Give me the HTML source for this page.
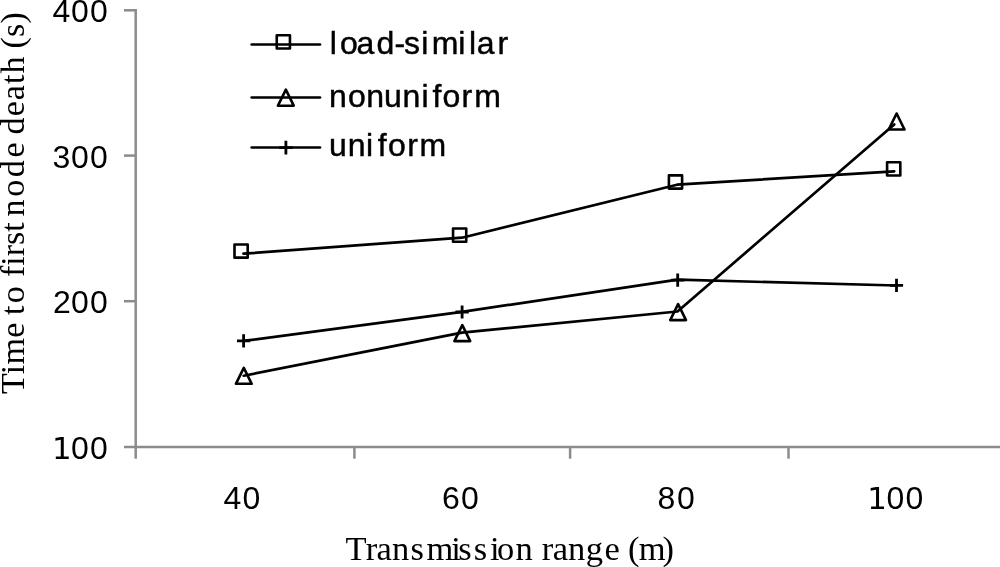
<!DOCTYPE html>
<html lang="en">
<head>
<meta charset="utf-8">
<title>Time to first node death vs transmission range</title>
<style>
html,body{margin:0;padding:0;background:#fff;}
body{width:1000px;height:567px;overflow:hidden;}
svg{display:block;filter:grayscale(1);}
.sans{font-family:"Liberation Sans",sans-serif;fill:#000;}
.serif{font-family:"Liberation Serif",serif;fill:#000;}
.ax{stroke:#8c8c8c;stroke-width:2.5;fill:none;}
.ln{stroke:#000;stroke-width:2.7;fill:none;stroke-linecap:round;stroke-linejoin:round;}
.mk{stroke:#000;stroke-width:2.6;fill:none;stroke-linejoin:round;}
.pl{stroke:#000;stroke-width:2.8;fill:none;}
.leg{stroke:#000;stroke-width:0.45;}
</style>
</head>
<body>
<svg width="1000" height="567" viewBox="0 0 1000 567">
<rect x="0" y="0" width="1000" height="567" fill="#ffffff"/>

<!-- axes -->
<g class="ax">
<line x1="135.7" y1="9" x2="135.7" y2="458.7"/>
<line x1="124" y1="447" x2="1000" y2="447"/>
<line x1="124" y1="10.3" x2="135.7" y2="10.3"/>
<line x1="124" y1="155.6" x2="135.7" y2="155.6"/>
<line x1="124" y1="301.2" x2="135.7" y2="301.2"/>
<line x1="354.4" y1="447" x2="354.4" y2="458.7"/>
<line x1="570.1" y1="447" x2="570.1" y2="458.7"/>
<line x1="788.5" y1="447" x2="788.5" y2="458.7"/>
</g>

<!-- y tick labels -->
<g class="sans" font-size="32">
<text x="52.6 71.1 89.9" y="22.4">400</text>
<text x="52.5 71.1 89.9" y="167.9">300</text>
<text x="52.9 71.1 89.9" y="313.4">200</text>
<text x="52.1 71.1 89.9" y="459.2"><tspan font-family="DejaVu Sans" font-size="30.8">1</tspan>00</text>
</g>

<!-- x tick labels -->
<g class="sans" font-size="32">
<text x="223.6 242.6" y="509.4">40</text>
<text x="442.0 460.9" y="509.4">60</text>
<text x="657.6 676.9" y="509.4">80</text>
<text x="867.2 886.4 905.4" y="509.4"><tspan font-family="DejaVu Sans" font-size="30.8">1</tspan>00</text>
</g>

<!-- axis titles -->
<text class="serif" font-size="34.5" x="345.4 365.8 376.6 392.1 410.6 426.5 451.2 458.2 473.7 489.9 497.1 515.5 532.8 541.7 552.8 568.0 585.7 604.6 619.9 628.0 638.8 662.5" y="559.5">Transmission range (m)</text>
<text class="serif" font-size="34" transform="translate(23.8 394) rotate(-90)"><tspan x="0" letter-spacing="0.3">Time</tspan><tspan x="70.8"> </tspan><tspan x="78.9" letter-spacing="2.3">to</tspan><tspan x="107.5"> </tspan><tspan x="116.9" style="font-feature-settings:'dlig' 1;font-variant-ligatures:discretionary-ligatures">first</tspan><tspan x="170.5"> </tspan><tspan x="177.6" letter-spacing="2.6">node</tspan><tspan x="251.5"> </tspan><tspan x="259.6" letter-spacing="1.05">death</tspan><tspan x="338"> </tspan><tspan x="345.4" letter-spacing="0.25">(s)</tspan></text>

<!-- legend -->
<g class="ln">
<line x1="251.7" y1="44.5" x2="320" y2="44.5"/>
<line x1="251.7" y1="97.5" x2="320" y2="97.5"/>
<line x1="251.7" y1="147.5" x2="320" y2="147.5"/>
</g>
<g class="mk">
<rect x="276.75" y="35.25" width="13.2" height="13.2"/>
<path d="M285.85 89.70 L293.75 105.70 L277.95 105.70 Z"/>
</g>
<g class="pl">
<path d="M285.90 140.80 V154.40 M279.10 147.60 H292.70"/>
</g>
<g class="sans leg" font-size="32">
<text x="329.7 339.9 356.4 376.5 394.4 404.1 421.2 431.7 458.2 468.9 476.7 497.6" y="53.9">load-similar</text>
<text x="329.1 347.9 366.3 384.1 402.6 421.6 432.6 442.4 461.4 474.2" y="106.8">nonuniform</text>
<text x="329.0 347.8 366.1 377.8 388.0 407.3 419.6" y="156.4">uniform</text>
</g>

<!-- series lines -->
<g class="ln">
<polyline points="243.5,253.7 462,237.7 677,184.7 894.2,171.3"/>
<polyline points="243.7,375.7 462,332.6 677.5,311.5 894.2,124.4"/>
<polyline points="243.7,340.9 462,311.9 677.7,279.7 896.5,285.5"/>
</g>

<!-- markers -->
<g class="mk">
<rect x="234.50" y="244.45" width="13.2" height="13.2"/>
<rect x="453.05" y="228.55" width="13.2" height="13.2"/>
<rect x="668.90" y="175.40" width="13.2" height="13.2"/>
<rect x="887.10" y="162.30" width="13.2" height="13.2"/>
<path d="M243.80 367.80 L251.70 383.80 L235.90 383.80 Z"/>
<path d="M462.30 325.10 L470.20 341.10 L454.40 341.10 Z"/>
<path d="M678.10 304.10 L686.00 320.10 L670.20 320.10 Z"/>
<path d="M896.60 113.50 L904.50 129.50 L888.70 129.50 Z"/>
</g>
<g class="pl">
<path d="M243.60 334.30 V347.50 M237.00 340.90 H250.20"/>
<path d="M462.10 305.40 V318.60 M455.50 312.00 H468.70"/>
<path d="M677.70 273.60 V286.80 M671.10 280.20 H684.30"/>
<path d="M896.50 278.80 V292.00 M889.90 285.40 H903.10"/>
</g>
</svg>
</body>
</html>
